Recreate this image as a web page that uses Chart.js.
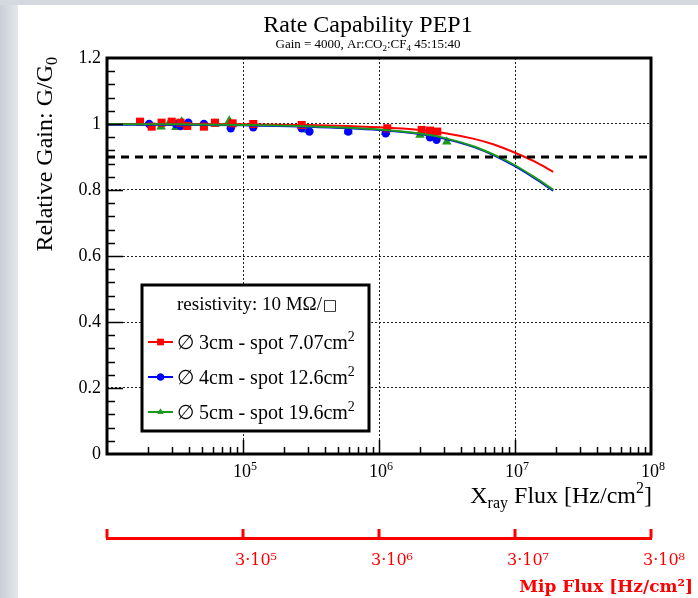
<!DOCTYPE html>
<html><head><meta charset="utf-8">
<script src="https://cdn.jsdelivr.net/npm/chart.js@4.4.0/dist/chart.umd.min.js"></script>
<style>
html,body{margin:0;padding:0;background:#fff;width:698px;height:598px;overflow:hidden;}
#leftStrip{position:absolute;left:0;top:0;width:18px;height:598px;background:linear-gradient(to right,#c9ced6,#e4e8ec);}
#topStrip{position:absolute;left:0;top:0;width:698px;height:5px;background:#d4d9df;}
canvas{position:absolute;left:0;top:0;}
</style></head><body>
<div id="leftStrip"></div><div id="topStrip"></div>
<canvas id="c" width="698" height="598"></canvas>
<script>
// ---------------- data ----------------
const seriesLabels = ['∅ 3cm - spot 7.07cm^{2}', '∅ 4cm - spot 12.6cm^{2}', '∅ 5cm - spot 19.6cm^{2}'];
const seriesColors = ['#ff0000', '#0000ff', '#1a991a'];
const seriesMarkers = ['rect', 'circle', 'triangle'];

const red3cmX = [17.5e3, 21.3e3, 25.2e3, 29.9e3, 34.7e3, 38.9e3, 51.6e3, 62.2e3, 83.9e3, 119e3, 270e3, 1.15e6, 2.06e6, 2.37e6, 2.68e6];
const red3cmY = [1.007, 0.992, 1.004, 1.007, 1.004, 0.994, 0.992, 1.004, 1.002, 1.0, 0.997, 0.987, 0.982, 0.98, 0.977];
const blue4cmX = [20.4e3, 32.1e3, 34.7e3, 39.6e3, 51.6e3, 81.3e3, 119e3, 270e3, 308e3, 594e3, 1.12e6, 2.37e6, 2.65e6];
const blue4cmY = [1.0, 1.0, 0.994, 1.004, 1.0, 0.987, 0.99, 0.987, 0.977, 0.977, 0.972, 0.96, 0.952];
const green5cmX = [25e3, 28.7e3, 32.1e3, 35.4e3, 62.2e3, 79.3e3, 301e3, 594e3, 1.12e6, 2.0e6, 3.15e6];
const green5cmY = [0.992, 1.004, 0.99, 1.007, 1.0, 1.01, 0.982, 0.977, 0.975, 0.967, 0.946];

const fitX = [1e4, 3e4, 1e5, 3e5, 1e6, 2e6, 3e6, 5e6, 7e6, 1e7, 1.4e7, 1.91e7];
const fitRed = [1.0, 1.0, 0.999, 0.997, 0.99, 0.982, 0.973, 0.955, 0.938, 0.913, 0.886, 0.855];
const fitBlue = [0.998, 0.998, 0.996, 0.992, 0.982, 0.97, 0.956, 0.93, 0.905, 0.872, 0.835, 0.798];
const fitGreen = [0.999, 0.999, 0.997, 0.993, 0.983, 0.971, 0.958, 0.932, 0.907, 0.875, 0.838, 0.801];

const refLineX = [1e4, 1e8];
const refLineY = [0.9, 0.9];

const yMajorValues = [0, 0.2, 0.4, 0.6, 0.8, 1.0, 1.2];
const yTickLabels = ['0', '0.2', '0.4', '0.6', '0.8', '1', '1.2'];
const yMinorDivisions = 5;
const xMajorValues = [1e4, 1e5, 1e6, 1e7, 1e8];
const xTickLabels = ['', '10^{5}', '10^{6}', '10^{7}', '10^{8}'];
const mipTickValues = [3e4, 3e5, 3e6, 3e7, 3e8];
const mipTickLabels = ['', '3·10⁵', '3·10⁶', '3·10⁷', '3·10⁸'];

const titleText = 'Rate Capability PEP1';
const subtitleText = 'Gain = 4000, Ar:CO_{2}:CF_{4} 45:15:40';
const yTitleText = 'Relative Gain: G/G_{0}';
const xTitleText = 'X_{ray} Flux [Hz/cm^{2}]';
const mipTitleText = 'Mip Flux [Hz/cm²]';
const legendHeader = 'resistivity: 10 MΩ/';
const legendHeaderSymbol = '□';

// ---------------- helpers ----------------
const SERIF = '"Liberation Serif", "Times New Roman", serif';
function richSegs(str){
  const segs=[]; let i=0, buf='';
  while(i<str.length){
    const c=str[i];
    if((c==='_'||c==='^') && str[i+1]==='{'){
      if(buf){segs.push({t:buf,m:0});buf='';}
      const j=str.indexOf('}',i);
      segs.push({t:str.slice(i+2,j), m:c==='^'?1:-1});
      i=j+1;
    } else {buf+=c;i++;}
  }
  if(buf) segs.push({t:buf,m:0});
  return segs;
}
function drawRich(ctx,str,x,y,opt){
  const segs=richSegs(str), fs=opt.size, ss=Math.round(fs*0.68);
  const fam=opt.family||SERIF, wt=opt.weight||'normal';
  const font=s=>`${wt} ${s}px ${fam}`;
  let w=0;
  segs.forEach(s=>{ctx.font=font(s.m?ss:fs); s.w=ctx.measureText(s.t).width; w+=s.w;});
  let cx = opt.align==='right'? x-w : opt.align==='center'? x-w/2 : x;
  ctx.fillStyle=opt.color||'#000'; ctx.textBaseline='alphabetic'; ctx.textAlign='left';
  segs.forEach(s=>{
    ctx.font=font(s.m?ss:fs);
    const dy = s.m===1? -fs*0.4 : s.m===-1? fs*0.22 : 0;
    ctx.fillText(s.t,cx,y+dy); cx+=s.w;
  });
  return w;
}
const near=(a,b)=>Math.abs(a-b)<1e-9*Math.max(1,Math.abs(b));
const isYMajor=v=>yMajorValues.some(m=>near(v,m));
const isXMajor=v=>xMajorValues.some(m=>near(v,m));

const yAllTicks=[];
for(let i=0;i<yMajorValues.length-1;i++){
  const a=yMajorValues[i], b=yMajorValues[i+1];
  for(let k=0;k<yMinorDivisions;k++) yAllTicks.push(+(a+(b-a)*k/yMinorDivisions).toFixed(6));
}
yAllTicks.push(yMajorValues[yMajorValues.length-1]);
const xAllTicks=[];
for(let i=0;i<xMajorValues.length-1;i++){
  for(let k=1;k<10;k++) xAllTicks.push(xMajorValues[i]*k);
}
xAllTicks.push(xMajorValues[xMajorValues.length-1]);

const pts=(xs,ys)=>xs.map((x,i)=>({x,y:ys[i]}));
const scatterSets=[[red3cmX,red3cmY],[blue4cmX,blue4cmY],[green5cmX,green5cmY]];
const fitSets=[fitRed,fitBlue,fitGreen];
const fitOrder=[1.2,1.1,1.0];
const markerRadius={rect:5.7,circle:4.2,triangle:5.5};

const datasets=[];
scatterSets.forEach((s,i)=>datasets.push({
  type:'line', label:seriesLabels[i], data:pts(s[0],s[1]), showLine:false,
  pointStyle:seriesMarkers[i], pointRadius:markerRadius[seriesMarkers[i]],
  pointBackgroundColor:seriesColors[i], pointBorderColor:seriesColors[i], pointBorderWidth:0,
  order:2
}));
fitSets.forEach((f,i)=>datasets.push({
  type:'line', label:'fit '+i, data:pts(fitX,f), borderColor:seriesColors[i], borderWidth:2,
  pointRadius:0, cubicInterpolationMode:'monotone', fill:false, order:fitOrder[i]
}));
datasets.push({type:'line', label:'ref', data:pts(refLineX,refLineY), borderColor:'#000', borderWidth:3,
  borderDash:[8,6], pointRadius:0, order:0});

// ---------------- decoration plugin ----------------
const deco={
  id:'deco',
  afterDatasetsDraw(chart){
    const {ctx, chartArea:a, scales}=chart;
    ctx.save();
    // inner ticks (ROOT style)
    ctx.strokeStyle='#000'; ctx.lineWidth=1.5;
    scales.y.ticks.forEach(t=>{
      if(near(t.value,0)||near(t.value,1.2)) return;
      const p=Math.round(scales.y.getPixelForValue(t.value))+0.5;
      const L=isYMajor(t.value)?16:8;
      ctx.beginPath(); ctx.moveTo(a.left,p); ctx.lineTo(a.left+L,p); ctx.stroke();
    });
    scales.x.ticks.forEach(t=>{
      if(near(t.value,1e4)||near(t.value,1e8)) return;
      const p=Math.round(scales.x.getPixelForValue(t.value))+0.5;
      const L=isXMajor(t.value)?14:7;
      ctx.beginPath(); ctx.moveTo(p,a.bottom); ctx.lineTo(p,a.bottom-L); ctx.stroke();
    });
    // frame
    ctx.lineWidth=3; ctx.strokeStyle='#000';
    ctx.strokeRect(a.left,a.top,a.right-a.left,a.bottom-a.top);
    // x tick labels
    xMajorValues.forEach((v,i)=>{
      if(!xTickLabels[i]) return;
      const p=scales.x.getPixelForValue(v);
      drawRich(ctx,xTickLabels[i],p+2,a.bottom+23,{size:18,align:'center'});
    });
    // red mip axis tick marks (pointing up)
    const s2=scales.x2;
    ctx.strokeStyle='#ff0000'; ctx.lineWidth=3;
    s2.ticks.forEach(t=>{
      const p=Math.round(s2.getPixelForValue(t.value));
      ctx.beginPath(); ctx.moveTo(p,s2.top); ctx.lineTo(p,s2.top-9); ctx.stroke();
    });
    // titles
    drawRich(ctx,titleText,368,32,{size:24,align:'center'});
    drawRich(ctx,subtitleText,368,48,{size:13,align:'center'});
    drawRich(ctx,xTitleText,652,503,{size:24,align:'right'});
    drawRich(ctx,mipTitleText,693,592,{size:17,align:'right',weight:'bold',family:'"DejaVu Serif", serif',color:'#ff0000'});
    ctx.save();
    ctx.translate(52,57); ctx.rotate(-Math.PI/2);
    drawRich(ctx,yTitleText,0,0,{size:24,align:'right'});
    ctx.restore();
    // legend
    const L={x:142,y:285,w:227,h:146};
    ctx.fillStyle='#fff'; ctx.fillRect(L.x,L.y,L.w,L.h);
    ctx.strokeStyle='#000'; ctx.lineWidth=3; ctx.strokeRect(L.x,L.y,L.w,L.h);
    const hw=drawRich(ctx,legendHeader,177,310,{size:19});
    ctx.font='bold 15px "DejaVu Sans", sans-serif'; ctx.fillStyle='#000'; ctx.textAlign='left';
    ctx.fillText(legendHeaderSymbol,177+hw+1,310);
    seriesLabels.forEach((lab,i)=>{
      const yy=342+35*i;
      ctx.strokeStyle=seriesColors[i]; ctx.lineWidth=2;
      ctx.beginPath(); ctx.moveTo(148,yy); ctx.lineTo(173,yy); ctx.stroke();
      ctx.fillStyle=seriesColors[i];
      Chart.helpers.drawPoint(ctx,{pointStyle:seriesMarkers[i],radius:seriesMarkers[i]==='rect'?4.5:3.5,rotation:0,borderWidth:0},160.5,yy);
      ctx.fill();
      drawRich(ctx,lab,177,yy+7,{size:20});
    });
    ctx.restore();
  }
};

new Chart(document.getElementById('c'),{
  data:{datasets},
  options:{
    responsive:false, animation:false, devicePixelRatio:1,
    layout:{padding:{top:58,right:47,left:0,bottom:0}},
    plugins:{legend:{display:false},title:{display:false},tooltip:{enabled:false}},
    scales:{
      x:{
        type:'logarithmic', position:'bottom', min:1e4, max:1e8, weight:0,
        afterBuildTicks:s=>{s.ticks=xAllTicks.map(v=>({value:v}));},
        afterFit:s=>{s.height=84;},
        ticks:{display:false, autoSkip:false},
        grid:{drawTicks:false, lineWidth:1,
          color:c=>(c.tick && isXMajor(c.tick.value) && !near(c.tick.value,1e4) && !near(c.tick.value,1e8))?'#222':'rgba(0,0,0,0)'},
        border:{display:false, dash:[2,2]}
      },
      x2:{
        type:'logarithmic', position:'bottom', min:3e4, max:3e8, weight:1,
        afterBuildTicks:s=>{s.ticks=mipTickValues.map(v=>({value:v}));},
        afterFit:s=>{s.height=60;},
        ticks:{autoSkip:false, maxRotation:0, color:'#ff0000', padding:13, labelOffset:13,
          font:{family:'"DejaVu Serif", serif', size:16},
          callback:(v,i)=>mipTickLabels[i]},
        grid:{display:false, drawTicks:false},
        border:{display:true, color:'#ff0000', width:3}
      },
      y:{
        type:'linear', min:0, max:1.2,
        afterBuildTicks:s=>{s.ticks=yAllTicks.map(v=>({value:v}));},
        afterFit:s=>{s.width=107;},
        ticks:{autoSkip:false, padding:6, color:'#000',
          font:{family:SERIF, size:18},
          callback:v=>{const k=yMajorValues.findIndex(m=>near(v,m)); return k>=0?yTickLabels[k]:'';}},
        grid:{drawTicks:false, lineWidth:1,
          color:c=>(c.tick && isYMajor(c.tick.value) && !near(c.tick.value,0) && !near(c.tick.value,1.2))?'#222':'rgba(0,0,0,0)'},
        border:{display:false, dash:[2,2]}
      }
    }
  },
  plugins:[deco]
});
</script>
</body></html>
